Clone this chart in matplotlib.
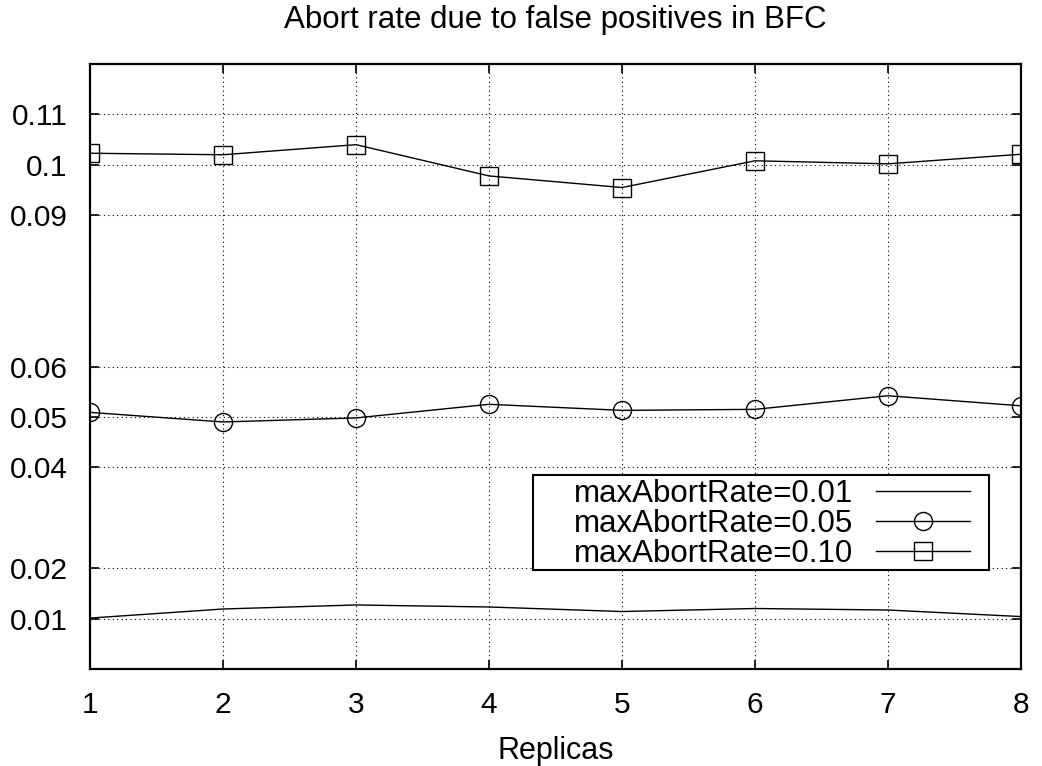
import matplotlib.pyplot as plt
from matplotlib.patches import Rectangle
from matplotlib.transforms import IdentityTransform

replicas = [1, 2, 3, 4, 5, 6, 7, 8]
rate_001 = [0.0101, 0.0119, 0.0127, 0.0123, 0.0114, 0.0120, 0.0117, 0.0104]
rate_005 = [0.0509, 0.0490, 0.0498, 0.0525, 0.0513, 0.0515, 0.0542, 0.0522]
rate_010 = [0.1023, 0.1020, 0.1040, 0.0978, 0.0955, 0.1008, 0.1002, 0.1021]
yticks = [0.01, 0.02, 0.04, 0.05, 0.06, 0.09, 0.1, 0.11]
ytick_labels = ["0.01", "0.02", "0.04", "0.05", "0.06", "0.09", "0.1", "0.11"]

plt.rcParams['font.family'] = ['Liberation Sans', 'DejaVu Sans']

fig = plt.figure(figsize=(10.42, 7.66), dpi=100)
# axes box: x 90..1021, y 64..669 in pixels
ax = fig.add_axes([90/1042, 1 - 669/766, 931/1042, 605/766])

ax.plot(replicas, rate_001, color='black', lw=1, label="maxAbortRate=0.01")
ax.plot(replicas, rate_005, color='black', lw=1, marker='o', ms=13,
        mfc='none', mec='black', mew=1, label="maxAbortRate=0.05")
ax.plot(replicas, rate_010, color='black', lw=1, marker='s', ms=13,
        mfc='none', mec='black', mew=1, label="maxAbortRate=0.10")

ax.set_xlim(1, 8)
ax.set_ylim(0, 0.12)
ax.set_xticks(replicas)
ax.set_yticks(yticks)
ax.set_yticklabels(ytick_labels)
ax.tick_params(direction='in', top=True, right=True, labelsize=21.5,
               length=6.5, width=1.2, pad=16)
ax.grid(True, linestyle=(0, (1, 3)), color='black', lw=0.8)
for s in ax.spines.values():
    s.set_linewidth(1.6)

ax.set_xlabel("Replicas", fontsize=22, labelpad=12)
ax.set_title("Abort rate due to false positives in BFC", fontsize=22.5, pad=26)

# gnuplot-style key: text right-aligned, sample on the right
leg = ax.legend(loc='lower right', bbox_to_anchor=(970/1042, 1 - 569/766),
                bbox_transform=fig.transFigure, fontsize=22.5, markerfirst=False,
                frameon=False, handlelength=3.0, borderpad=0, labelspacing=0.0,
                handletextpad=0.75, borderaxespad=0)
leg.set_zorder(5)

# wider box around the key, like gnuplot's
fig.canvas.draw()
bb = leg.get_window_extent()
box = Rectangle((bb.x0 - 41, bb.y0 - 1), bb.width + 60, bb.height + 5,
                transform=IdentityTransform(), facecolor='white',
                edgecolor='black', lw=1.5, zorder=4.9, clip_on=False)
ax.add_patch(box)

fig.savefig("out.png", dpi=100)
